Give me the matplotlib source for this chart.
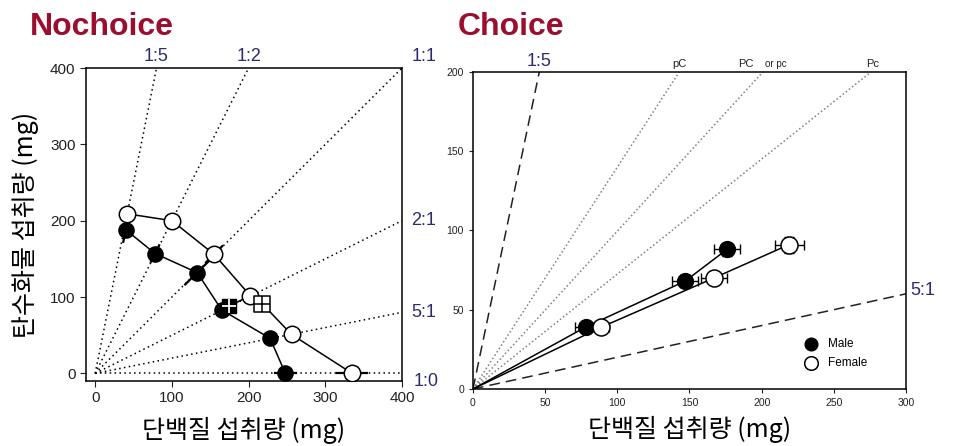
import matplotlib
matplotlib.use("Agg")
import matplotlib.pyplot as plt
import numpy as np

plt.rcParams['font.family'] = ['Liberation Sans', 'DejaVu Sans']
KR = ['Noto Sans CJK KR', 'DejaVu Sans']
NAVY = '#2d2b6e'
CRIMSON = '#9a0e2f'

# ---- No-choice panel data ----
rail_labels = ["1:5", "1:2", "1:1", "2:1", "5:1", "1:0"]
rail_ends_x = [80, 200, 400, 400, 400, 400]
rail_ends_y = [400, 400, 400, 200, 80, 0]

nc_fill_x = [40, 78, 133, 165, 228, 248]
nc_fill_y = [188, 157, 132, 83, 46, 0]
nc_fill_err = [16, 12, 22, 0, 5, 14]
nc_open_x = [42, 100, 155, 202, 218, 256, 335]
nc_open_y = [209, 200, 156, 102, 91, 51, 0]
nc_open_err = [5, 5, 15, 5, 0, 5, 20]
sq_fill = (175, 88)
sq_open = (218, 91)

# ---- Choice panel data ----
ch_rail_labels = ["1:5", "pC", "PC", "Pc", "5:1"]
ch_rail_x = [46, 143, 201, 276, 300]
ch_rail_y = [200, 200, 200, 200, 60]
male_x = [78, 147, 176]
male_y = [39, 68, 88]
male_xerr = [7, 9, 9]
male_yerr = [2, 4, 4]
female_x = [89, 167, 219]
female_y = [39, 70, 91]
female_xerr = [5, 9, 10]
female_yerr = [2, 4, 5]

fig = plt.figure(figsize=(9.67, 4.46), dpi=100)

# ================= left =================
ax1 = fig.add_axes([0.0889, 0.1457, 0.3268, 0.7018])
for ex, ey in zip(rail_ends_x, rail_ends_y):
    ax1.plot([0, ex], [0, ey], color='black', lw=1.1, ls=(0, (1, 2.2)), zorder=1)


def radial_err(ax, xs, ys, errs):
    for x, y, e in zip(xs, ys, errs):
        r = np.hypot(x, y)
        if e == 0 or r == 0:
            continue
        ux, uy = x / r, y / r
        ax.plot([x - e * ux, x + e * ux], [y - e * uy, y + e * uy],
                color='black', lw=1.6, zorder=2)


radial_err(ax1, nc_fill_x, nc_fill_y, nc_fill_err)
radial_err(ax1, nc_open_x, nc_open_y, nc_open_err)

ax1.plot(nc_fill_x, nc_fill_y, color='black', lw=1.1, zorder=3)
ax1.plot(nc_open_x, nc_open_y, color='black', lw=1.1, zorder=3)
ax1.plot([sq_fill[0], nc_open_x[3]], [sq_fill[1], nc_open_y[3]], color='black', lw=1.1, zorder=3)
ax1.scatter(nc_fill_x, nc_fill_y, s=120, c='black', edgecolors='black', zorder=4)
ox = [x for i, x in enumerate(nc_open_x) if i != 4]
oy = [y for i, y in enumerate(nc_open_y) if i != 4]
ax1.scatter(ox, oy, s=140, c='white', edgecolors='black', linewidths=1.1, zorder=4)
ax1.scatter([sq_fill[0]], [sq_fill[1]], marker='s', s=110, c='black', zorder=5)
ax1.scatter([sq_fill[0]], [sq_fill[1]], marker='+', s=110, c='white', linewidths=1.3, zorder=6)
ax1.scatter([sq_open[0]], [sq_open[1]], marker='s', s=130, c='white', edgecolors='black', linewidths=1.1, zorder=5)
ax1.scatter([sq_open[0]], [sq_open[1]], marker='+', s=130, c='black', linewidths=1.1, zorder=6)

ax1.set_xlim(-12, 400)
ax1.set_ylim(-10, 400)
ax1.set_xticks([0, 100, 200, 300, 400])
ax1.set_yticks([0, 100, 200, 300, 400])
ax1.tick_params(labelsize=11, direction='out', length=4, colors='#222222')
for sp in ax1.spines.values():
    sp.set_linewidth(1.1)

# ratio labels
for lab, ex, ey in zip(rail_labels, rail_ends_x, rail_ends_y):
    if ey == 400 and ex < 400:
        ax1.text(ex, 404, lab, color=NAVY, fontsize=13, ha='center', va='bottom')
    elif ey == 400:
        ax1.text(412, 404, lab, color=NAVY, fontsize=13, ha='left', va='bottom')
    elif ey == 0:
        ax1.text(415, -10, lab, color=NAVY, fontsize=13, ha='left', va='center')
    else:
        ax1.text(412, ey, lab, color=NAVY, fontsize=13, ha='left', va='center')

ax1.set_xlabel("단백질 섭취량 (mg)", family=KR, fontsize=18, labelpad=8)
ax1.set_ylabel("탄수화물 섭취량 (mg)", family=KR, fontsize=18, labelpad=8)
fig.text(0.031, 0.94, "Nochoice", color=CRIMSON, fontsize=23, fontweight='bold', va='center')

# ================= right =================
ax2 = fig.add_axes([0.4891, 0.1278, 0.4478, 0.7114])
for i, (ex, ey) in enumerate(zip(ch_rail_x, ch_rail_y)):
    if i in (0, 4):
        ax2.plot([0, ex], [0, ey], color='#222222', lw=1.1, ls=(0, (7, 4)), zorder=1)
    else:
        ax2.plot([0, ex], [0, ey], color='#808080', lw=1.1, ls=(0, (1, 1.6)), zorder=1)

ax2.plot([0] + male_x, [0] + male_y, color='black', lw=1.1, zorder=3)
ax2.plot([0] + female_x, [0] + female_y, color='black', lw=1.1, zorder=3)
ax2.errorbar(male_x, male_y, xerr=male_xerr, yerr=male_yerr, fmt='none',
             ecolor='black', elinewidth=1.0, capsize=3.5, zorder=2)
ax2.errorbar(female_x, female_y, xerr=female_xerr, yerr=female_yerr, fmt='none',
             ecolor='black', elinewidth=1.0, capsize=3.5, zorder=2)
ax2.scatter(male_x, male_y, s=130, c='black', zorder=4, label='Male')
ax2.scatter(female_x, female_y, s=150, c='white', edgecolors='black', linewidths=1.1,
            zorder=4, label='Female')

ax2.set_xlim(0, 300)
ax2.set_ylim(0, 200)
ax2.set_xticks([0, 50, 100, 150, 200, 250, 300])
ax2.set_yticks([0, 50, 100, 150, 200])
ax2.tick_params(labelsize=7.5, direction='out', length=3, colors='#222222')
for sp in ax2.spines.values():
    sp.set_linewidth(1.1)

ax2.text(ch_rail_x[0], 201, ch_rail_labels[0], color=NAVY, fontsize=13, ha='center', va='bottom')
ax2.text(ch_rail_x[1], 202, ch_rail_labels[1], color='#222222', fontsize=8, ha='center', va='bottom')
ax2.text(ch_rail_x[2] - 12, 202, ch_rail_labels[2], color='#222222', fontsize=8, ha='center', va='bottom')
ax2.text(ch_rail_x[2] + 9, 202, "or pc", color='#222222', fontsize=7, ha='center', va='bottom')
ax2.text(ch_rail_x[3] + 1, 202, ch_rail_labels[3], color='#222222', fontsize=8, ha='center', va='bottom')
ax2.text(303, ch_rail_y[4] + 2, ch_rail_labels[4], color=NAVY, fontsize=13, ha='left', va='center')

ax2.legend(loc='lower left', bbox_to_anchor=(0.73, 0.03), frameon=False, fontsize=8.5,
           handletextpad=0.4, labelspacing=0.6, scatterpoints=1, markerscale=0.8)

ax2.set_xlabel("단백질 섭취량 (mg)", family=KR, fontsize=18, labelpad=6)
fig.text(0.473, 0.94, "Choice", color=CRIMSON, fontsize=23, fontweight='bold', va='center')

fig.savefig("out.png", dpi=100)
